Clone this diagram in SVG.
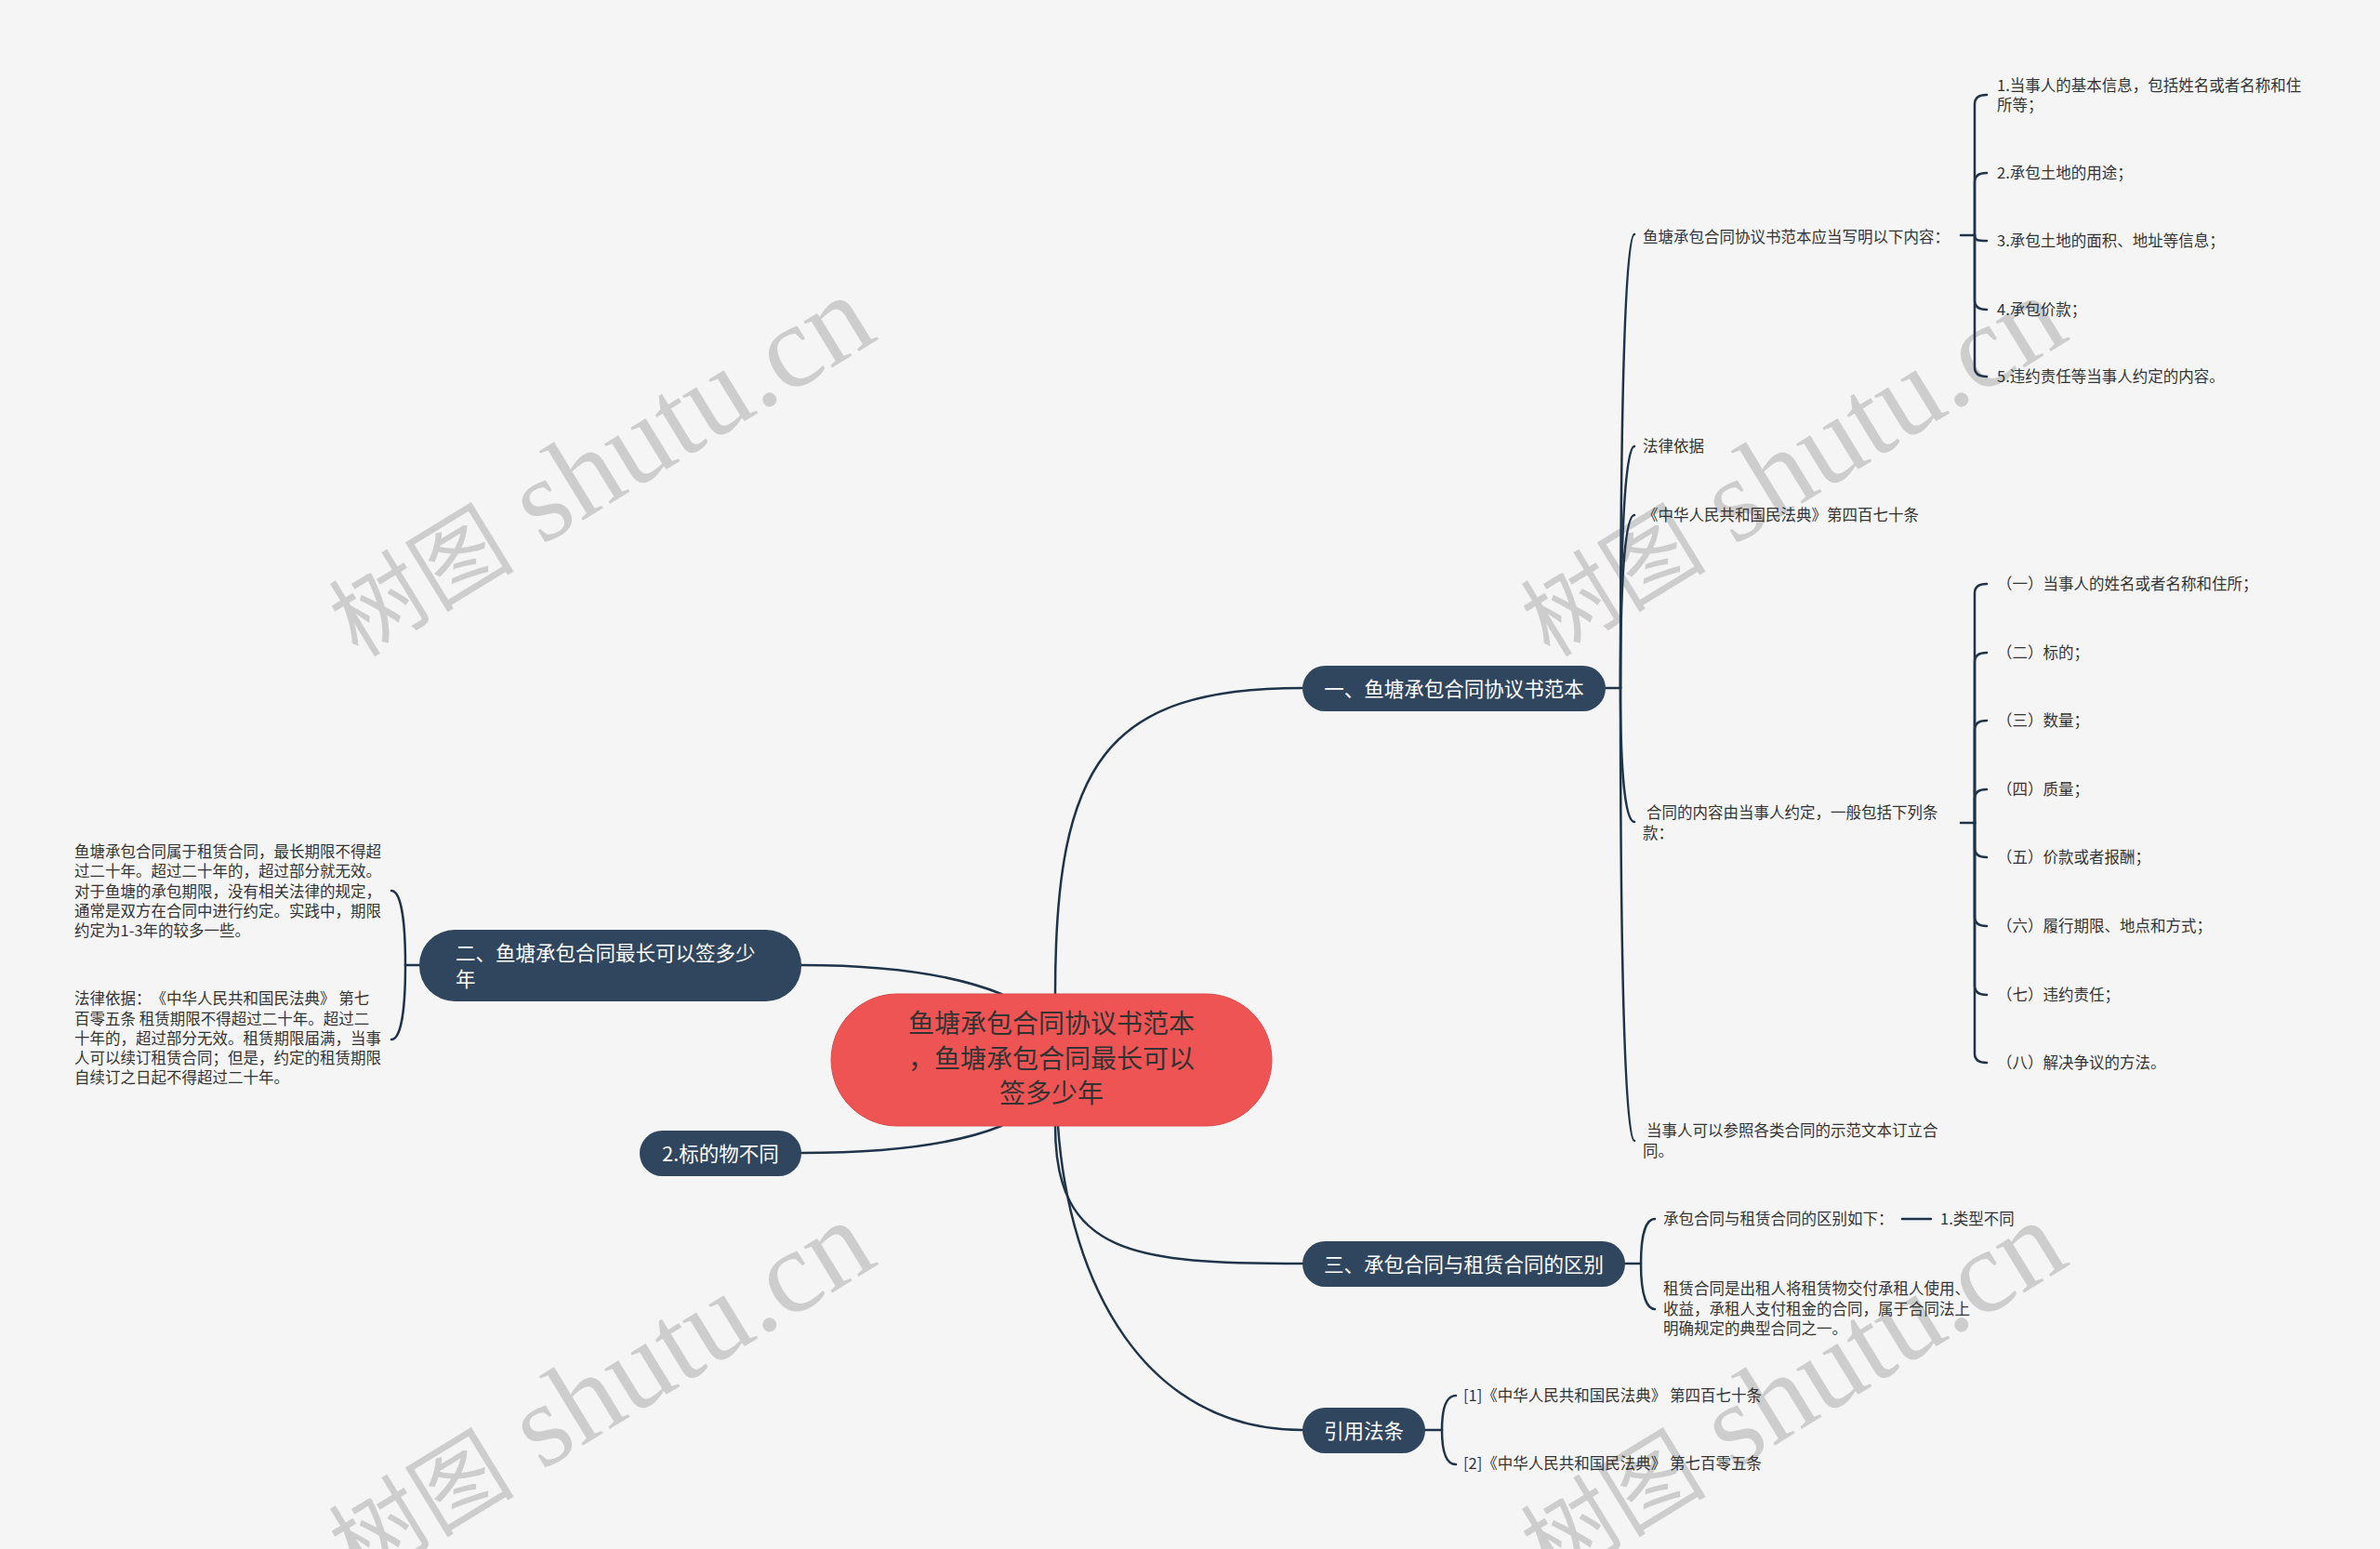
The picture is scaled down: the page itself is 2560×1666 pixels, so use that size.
<svg xmlns="http://www.w3.org/2000/svg" width="2560" height="1666" viewBox="0 0 2560 1666">
<style>
.bg{fill:#f5f5f5}
.wm{font-family:'Liberation Serif','Noto Sans CJK SC',serif;font-size:127px;fill:#cdcdcd}
.wc{font-size:100px}
.c{fill:none;stroke:#1f3449;stroke-width:2.5;stroke-linecap:round}
.nb{fill:#30465e}
.nt{font-family:'Noto Sans CJK SC',sans-serif;font-size:21.5px;fill:#ffffff;text-spacing-trim:space-all}
.rt{font-family:'Noto Sans CJK SC',sans-serif;font-size:28px;fill:#333333;text-spacing-trim:space-all}
.lf{font-family:'Noto Sans CJK SC',sans-serif;font-size:16.5px;fill:#333333;text-spacing-trim:space-all}
</style>
<rect class="bg" x="0" y="0" width="2560" height="1666"/>
<g id="watermarks">
<text class="wm" x="385" y="708" transform="rotate(-31.5 385 708)"><tspan class="wc">树图</tspan> shutu.cn</text>
<text class="wm" x="1667" y="708" transform="rotate(-31.5 1667 708)"><tspan class="wc">树图</tspan> shutu.cn</text>
<text class="wm" x="385" y="1703" transform="rotate(-31.5 385 1703)"><tspan class="wc">树图</tspan> shutu.cn</text>
<text class="wm" x="1667" y="1703" transform="rotate(-31.5 1667 1703)"><tspan class="wc">树图</tspan> shutu.cn</text>
</g>
<g id="connectors">
<path class="c" d="M1135 1100 L1135 1069 C1135 820 1190 740 1401 740"/>
<path class="c" d="M1135 1180 L1135 1211 C1135 1350 1220 1359 1401 1359"/>
<path class="c" d="M1138 1180 L1138 1211 C1150 1380 1230 1538 1401 1538"/>
<path class="c" d="M862 1038 C960 1038 1030 1050 1077 1069 L1100 1085"/>
<path class="c" d="M862 1240 C960 1240 1030 1230 1077 1211 L1100 1195"/>
<path class="c" d="M1727 740 H1743"/>
<path class="c" d="M1743 740 C1743 374 1750 252 1758 252"/>
<path class="c" d="M1743 740 C1743 545 1750 480 1758 480"/>
<path class="c" d="M1743 740 C1743 600 1750 554 1758 554"/>
<path class="c" d="M1743 740 C1743 848 1750 884 1758 884"/>
<path class="c" d="M1743 740 C1743 1105 1750 1227 1758 1227"/>
<path class="c" d="M2109 253 H2124"/>
<path class="c" d="M2124 253 V112 Q2124 102 2137 102"/>
<path class="c" d="M2124 253 V196 Q2124 186 2137 186"/>
<path class="c" d="M2124 253 C2124 259 2128 259 2137 259"/>
<path class="c" d="M2124 253 V323 Q2124 333 2137 333"/>
<path class="c" d="M2124 253 V395 Q2124 405 2137 405"/>
<path class="c" d="M2109 885 H2124"/>
<path class="c" d="M2124 885 V638 Q2124 628 2137 628"/>
<path class="c" d="M2124 885 V712 Q2124 702 2137 702"/>
<path class="c" d="M2124 885 V785 Q2124 775 2137 775"/>
<path class="c" d="M2124 885 V859 Q2124 849 2137 849"/>
<path class="c" d="M2124 885 V912 Q2124 922 2137 922"/>
<path class="c" d="M2124 885 V986 Q2124 996 2137 996"/>
<path class="c" d="M2124 885 V1060 Q2124 1070 2137 1070"/>
<path class="c" d="M2124 885 V1133 Q2124 1143 2137 1143"/>
<path class="c" d="M1748 1359 H1765"/>
<path class="c" d="M1765 1359 C1765 1323 1772 1311 1780 1311"/>
<path class="c" d="M1765 1359 C1765 1395 1772 1408 1780 1408"/>
<path class="c" d="M2046 1311 H2077"/>
<path class="c" d="M1533 1538 H1551"/>
<path class="c" d="M1551 1538 C1551 1510 1558 1501 1566 1501"/>
<path class="c" d="M1551 1538 C1551 1566 1558 1575 1566 1575"/>
<path class="c" d="M451 1038 H436"/>
<path class="c" d="M436 1038 C436 978 429 958 421 958"/>
<path class="c" d="M436 1038 C436 1098 429 1118 421 1118"/>
</g>
<g id="root">
<rect x="894" y="1069" width="474" height="142" rx="71" fill="#ef5455" stroke="#dd4a4a" stroke-width="1"/>
<text class="rt" x="1131" y="1111" text-anchor="middle">鱼塘承包合同协议书范本</text>
<text class="rt" x="1131" y="1149" text-anchor="middle">，鱼塘承包合同最长可以</text>
<text class="rt" x="1131" y="1186" text-anchor="middle">签多少年</text>
</g>
<g id="n1">
<rect class="nb" x="1401" y="716" width="326" height="49" rx="24.5"/>
<text class="nt" x="1564" y="749" text-anchor="middle">一、鱼塘承包合同协议书范本</text>
</g>
<g id="n2">
<rect class="nb" x="451" y="1000" width="411" height="77" rx="38"/>
<text class="nt" x="490" y="1033">二、鱼塘承包合同最长可以签多少</text>
<text class="nt" x="490" y="1061">年</text>
</g>
<g id="n2b">
<rect class="nb" x="688" y="1216" width="174" height="49" rx="24.5"/>
<text class="nt" x="775" y="1249" text-anchor="middle">2.标的物不同</text>
</g>
<g id="n3">
<rect class="nb" x="1401" y="1335" width="347" height="49" rx="24.5"/>
<text class="nt" x="1574.5" y="1368" text-anchor="middle">三、承包合同与租赁合同的区别</text>
</g>
<g id="n4">
<rect class="nb" x="1401" y="1514" width="132" height="49" rx="24.5"/>
<text class="nt" x="1467" y="1547" text-anchor="middle">引用法条</text>
</g>
<g id="n1a"><text class="lf" x="1767" y="261">鱼塘承包合同协议书范本应当写明以下内容：</text></g>
<g id="n1a1"><text class="lf" x="2148" y="97.5">1.当事人的基本信息，包括姓名或者名称和住</text><text class="lf" x="2148" y="119">所等；</text></g>
<g id="n1a2"><text class="lf" x="2148" y="192">2.承包土地的用途；</text></g>
<g id="n1a3"><text class="lf" x="2148" y="265">3.承包土地的面积、地址等信息；</text></g>
<g id="n1a4"><text class="lf" x="2148" y="339">4.承包价款；</text></g>
<g id="n1a5"><text class="lf" x="2148" y="411">5.违约责任等当事人约定的内容。</text></g>
<g id="n1b"><text class="lf" x="1767" y="486">法律依据</text></g>
<g id="n1c"><text class="lf" x="1767" y="560">《中华人民共和国民法典》第四百七十条</text></g>
<g id="n1d"><text class="lf" x="1771" y="880">合同的内容由当事人约定，一般包括下列条</text><text class="lf" x="1767" y="901.5">款：</text></g>
<g id="n1d1"><text class="lf" x="2148" y="634">（一）当事人的姓名或者名称和住所；</text></g>
<g id="n1d2"><text class="lf" x="2148" y="708">（二）标的；</text></g>
<g id="n1d3"><text class="lf" x="2148" y="781">（三）数量；</text></g>
<g id="n1d4"><text class="lf" x="2148" y="855">（四）质量；</text></g>
<g id="n1d5"><text class="lf" x="2148" y="928">（五）价款或者报酬；</text></g>
<g id="n1d6"><text class="lf" x="2148" y="1002">（六）履行期限、地点和方式；</text></g>
<g id="n1d7"><text class="lf" x="2148" y="1076">（七）违约责任；</text></g>
<g id="n1d8"><text class="lf" x="2148" y="1149">（八）解决争议的方法。</text></g>
<g id="n1e"><text class="lf" x="1771" y="1222">当事人可以参照各类合同的示范文本订立合</text><text class="lf" x="1767" y="1244">同。</text></g>
<g id="n2a">
<text class="lf" x="80" y="922">鱼塘承包合同属于租赁合同，最长期限不得超</text>
<text class="lf" x="80" y="943.3">过二十年。超过二十年的，超过部分就无效。</text>
<text class="lf" x="80" y="964.6">对于鱼塘的承包期限，没有相关法律的规定，</text>
<text class="lf" x="80" y="986">通常是双方在合同中进行约定。实践中，期限</text>
<text class="lf" x="80" y="1007.2">约定为1-3年的较多一些。</text>
</g>
<g id="n2b1">
<text class="lf" x="80" y="1080">法律依据：《中华人民共和国民法典》 第七</text>
<text class="lf" x="80" y="1101.5">百零五条 租赁期限不得超过二十年。超过二</text>
<text class="lf" x="80" y="1123">十年的，超过部分无效。租赁期限届满，当事</text>
<text class="lf" x="80" y="1144">人可以续订租赁合同；但是，约定的租赁期限</text>
<text class="lf" x="80" y="1165">自续订之日起不得超过二十年。</text>
</g>
<g id="n3a"><text class="lf" x="1789" y="1317">承包合同与租赁合同的区别如下：</text></g>
<g id="n3a1"><text class="lf" x="2087" y="1317">1.类型不同</text></g>
<g id="n3b">
<text class="lf" x="1789" y="1392">租赁合同是出租人将租赁物交付承租人使用、</text>
<text class="lf" x="1789" y="1413.5">收益，承租人支付租金的合同，属于合同法上</text>
<text class="lf" x="1789" y="1435">明确规定的典型合同之一。</text>
</g>
<g id="n4a"><text class="lf" x="1574" y="1507">[1]《中华人民共和国民法典》 第四百七十条</text></g>
<g id="n4b"><text class="lf" x="1574" y="1580">[2]《中华人民共和国民法典》 第七百零五条</text></g>
</svg>
